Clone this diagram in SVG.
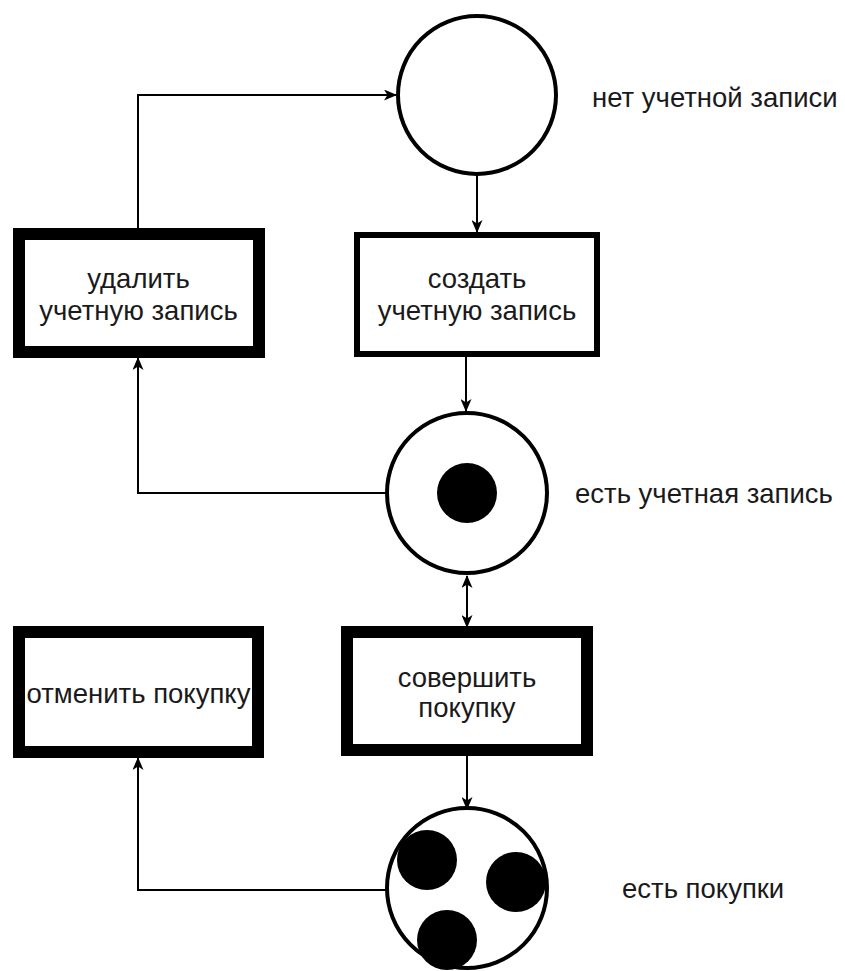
<svg xmlns="http://www.w3.org/2000/svg" width="845" height="971" viewBox="0 0 845 971">
  <style>
    .place { fill: #ffffff; stroke: #000000; stroke-width: 4; }
    .token { fill: #000000; stroke: none; }
    .trans { fill: #ffffff; stroke: #000000; }
    .thin { stroke-width: 6; }
    .thick { stroke-width: 12; }
    .edge { fill: none; stroke: #000000; stroke-width: 2; }
    text { font-family: "Liberation Sans", Arial, sans-serif; font-size: 27.5px; fill: #1a1a1a; }
    .mid { text-anchor: middle; }
  </style>
  <defs>
    <marker id="arrow" viewBox="0 0 13 11" refX="12" refY="5.5" markerWidth="13" markerHeight="11" markerUnits="userSpaceOnUse" orient="auto-start-reverse">
      <path d="M0,0 L13,5.5 L0,11 L3.5,5.5 z" fill="#000000"/>
    </marker>
  </defs>

  <rect width="845" height="971" fill="#ffffff"/>

  <!-- connectors -->
  <g id="connectors">
    <path class="edge" d="M138,228 L138,95 L396,95" marker-end="url(#arrow)"/>
    <path class="edge" d="M477,175 L477,232" marker-end="url(#arrow)"/>
    <path class="edge" d="M466,357 L466,411" marker-end="url(#arrow)"/>
    <path class="edge" d="M385,493 L138,493 L138,358" marker-end="url(#arrow)"/>
    <path class="edge" d="M467,576 L467,627" marker-start="url(#arrow)" marker-end="url(#arrow)"/>
    <path class="edge" d="M467,755 L467,809" marker-end="url(#arrow)"/>
    <path class="edge" d="M386,890 L138,890 L138,758" marker-end="url(#arrow)"/>
  </g>

  <!-- place: no account -->
  <g id="place-no-account">
    <circle class="place" cx="477" cy="95" r="79"/>
    <text x="592" y="107">нет учетной записи</text>
  </g>

  <!-- transition: delete account -->
  <g id="trans-delete-account">
    <rect class="trans thick" x="19" y="234" width="240" height="118"/>
    <text class="mid" x="138.5" y="288">удалить</text>
    <text class="mid" x="138.5" y="320">учетную запись</text>
  </g>

  <!-- transition: create account -->
  <g id="trans-create-account">
    <rect class="trans thin" x="357" y="235" width="240" height="119"/>
    <text class="mid" x="477" y="288">создать</text>
    <text class="mid" x="477" y="320">учетную запись</text>
  </g>

  <!-- place: has account, one token -->
  <g id="place-has-account">
    <circle class="place" cx="467" cy="493" r="80"/>
    <circle class="token" cx="467" cy="493" r="30"/>
    <text x="575" y="503">есть учетная запись</text>
  </g>

  <!-- transition: cancel purchase -->
  <g id="trans-cancel-purchase">
    <rect class="trans thick" x="19" y="632" width="239" height="120"/>
    <text class="mid" x="138.5" y="703">отменить покупку</text>
  </g>

  <!-- transition: make purchase -->
  <g id="trans-make-purchase">
    <rect class="trans thick" x="347" y="632" width="240" height="118"/>
    <text class="mid" x="467" y="687">совершить</text>
    <text class="mid" x="467" y="717">покупку</text>
  </g>

  <!-- place: has purchases, three tokens -->
  <g id="place-has-purchases">
    <circle class="place" cx="467" cy="888" r="80"/>
    <circle class="token" cx="427" cy="860" r="30"/>
    <circle class="token" cx="516" cy="882" r="30"/>
    <circle class="token" cx="447" cy="940" r="30"/>
    <text x="622" y="898">есть покупки</text>
  </g>
</svg>
